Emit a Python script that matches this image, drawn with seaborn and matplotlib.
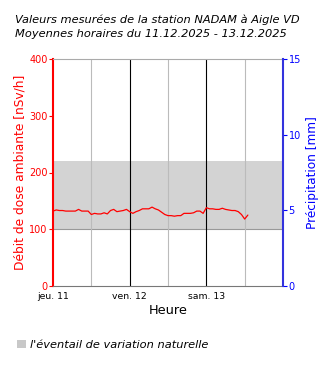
import numpy as np
import pandas as pd
import seaborn as sns
import matplotlib
matplotlib.use("Agg")
import matplotlib.pyplot as plt
from matplotlib.patches import Patch

# ---- data ----
hours = list(range(62))
dose = [132, 134, 133, 133, 132, 132, 132, 132, 135, 132, 132, 132,
        126, 128, 127, 127, 129, 127, 133, 135, 131, 132, 133, 135,
        131, 128, 131, 133, 136, 136, 136, 139, 136, 134, 130, 126,
        124, 124, 123, 124, 124, 128, 128, 128, 129, 132, 132, 128,
        138, 136, 136, 135, 135, 137, 135, 134, 133, 133, 131, 126,
        118, 125]
band_low, band_high = 100, 220
day_labels = ["jeu. 11", "ven. 12", "sam. 13"]
title_lines = ["Valeurs mesurées de la station NADAM à Aigle VD",
               "Moyennes horaires du 11.12.2025 - 13.12.2025"]

df = pd.DataFrame({"h": hours, "dose": dose})

sns.set_style("white")
plt.rcParams['font.family'] = ['DejaVu Sans']
plt.rcParams['text.color'] = 'black'
plt.rcParams['axes.labelcolor'] = 'black'
plt.rcParams['xtick.color'] = 'black'

fig = plt.figure(figsize=(3.3, 3.7), dpi=100)
ax = fig.add_axes([53/330, 1-286/370, 230/330, 227/370])

ax.axhspan(band_low, band_high, color="#d3d3d3", zorder=0, lw=0)
ax.axhline(band_low, color="#999999", lw=0.8, zorder=0.5)

# vertical grid
for h in range(12, 72, 12):
    c = "black" if h % 24 == 0 else "#bbbbbb"
    ax.axvline(h, color=c, lw=0.8, zorder=0.6)

sns.lineplot(data=df, x="h", y="dose", ax=ax, color="red", lw=0.9, zorder=3)

ax.set_xlim(0, 72)
ax.set_ylim(0, 400)
ax.set_yticks([0, 100, 200, 300, 400])
ax.set_xticks(list(range(0, 72, 12)))
ax.set_xticklabels([day_labels[i // 24] if i % 24 == 0 else "" for i in range(0, 72, 12)])
ax.tick_params(axis="x", labelsize=6.7, length=3, width=0.8, color="#555555",
               labelcolor="black", pad=1.5)
ax.tick_params(axis="y", labelsize=7, colors="red", length=3, width=0.8, pad=1)
ax.set_xlabel("Heure", fontsize=9.3, labelpad=2, color="black")
ax.set_ylabel("Débit de dose ambiante [nSv/h]", fontsize=8.8, color="red", labelpad=2)

ax.spines["left"].set_color("red")
ax.spines["left"].set_linewidth(1.5)
ax.spines["top"].set_color("#aaaaaa")
ax.spines["bottom"].set_color("#777777")
ax.spines["right"].set_visible(False)

ax2 = ax.twinx()
ax2.set_ylim(0, 15)
ax2.set_yticks([0, 5, 10, 15])
ax2.tick_params(axis="y", labelsize=7, colors="blue", length=3, width=0.8, pad=1)
ax2.set_ylabel("Précipitation [mm]", fontsize=8.7, color="blue", labelpad=4)
for s in ["left", "top", "bottom"]:
    ax2.spines[s].set_visible(False)
ax2.spines["right"].set_color("#3333dd")
ax2.spines["right"].set_linewidth(1.5)

fig.text(15/330, 1-20/370, title_lines[0], fontsize=8.2, style="italic",
         va="center", ha="left", color="black")
fig.text(15/330, 1-34/370, title_lines[1], fontsize=8.2, style="italic",
         va="center", ha="left", color="black")

fig.legend(handles=[Patch(facecolor="#c8c8c8", edgecolor="none",
                          label="l'éventail de variation naturelle")],
           loc="center left", bbox_to_anchor=(17/330, 1-345/370), frameon=False,
           prop={"size": 8.2, "style": "italic"}, handlelength=0.75, handleheight=0.75,
           handletextpad=0.35, borderaxespad=0, borderpad=0, labelcolor="black")

fig.savefig("out.png", dpi=100)
